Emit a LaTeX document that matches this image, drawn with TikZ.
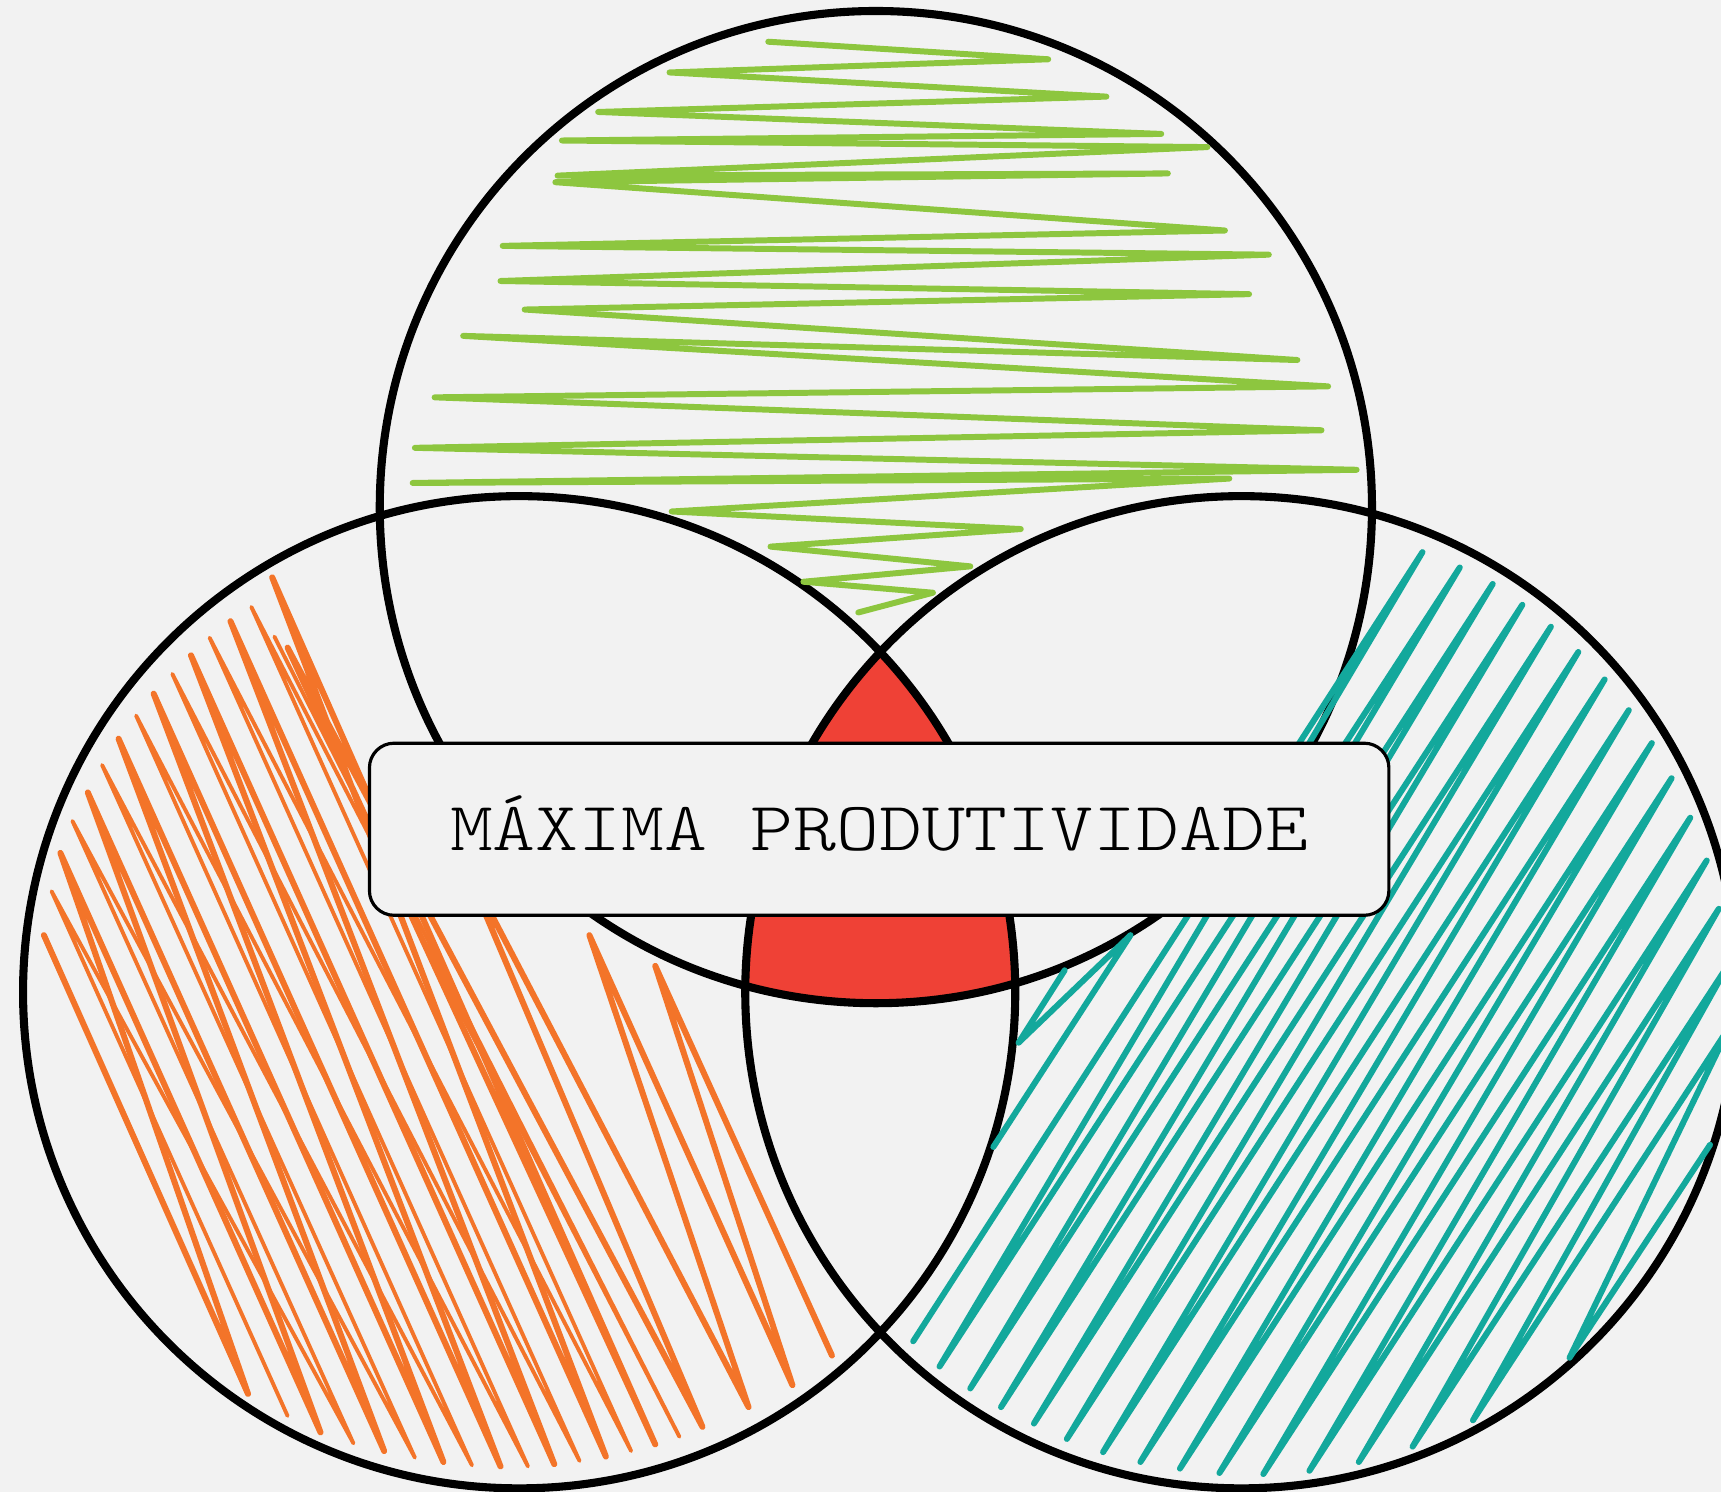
\documentclass[tikz,border=0pt]{standalone}
\usepackage{fontspec}
\usepackage{tikz}
\usetikzlibrary{positioning}
\newfontfamily\labelfont{lmmonolt10-regular.otf}[FakeStretch=1.18]

\definecolor{paper}{HTML}{F2F2F2}
\definecolor{leafgreen}{HTML}{8DC63F}
\definecolor{tangerine}{HTML}{F37429}
\definecolor{seateal}{HTML}{13A89C}
\definecolor{coral}{HTML}{EF4136}

\begin{document}
\begin{tikzpicture}[x=0.010976cm, y=-0.010976cm]
    \tikzstyle{ring} = [draw=black, line width=2.3pt]
    \tikzstyle{scribble} = [line width=1.7pt, line join=round, line cap=round]
    \tikzstyle{thinscribble} = [line width=1.1pt, line join=round, line cap=round]
    \tikzstyle{banner} = [rectangle, draw=black, line width=0.9pt, fill=paper, rounded corners=7pt, minimum width=10.19cm, minimum height=1.72cm, text height=12pt, text depth=0pt, font=\labelfont\fontsize{19.7}{24}\selectfont]

    \clip (0,0) rectangle (1568,1359);
    \fill[paper] (0,0) rectangle (1568,1359);

    \coordinate (ctop) at (798,462);
    \coordinate (cleft) at (473,904);
    \coordinate (cright) at (1131,904);

    % the part shared by all three
    \begin{scope}
        \clip (ctop) circle [radius=452];
        \clip (cleft) circle [radius=452];
        \fill[coral] (cright) circle [radius=452];
    \end{scope}

    \path[ring] (ctop) circle [radius=452];
    \path[ring] (cleft) circle [radius=452];
    \path[ring] (cright) circle [radius=452];

    % green scribble
    \draw[scribble, leafgreen] (700,38) -- (955,54) -- (610,66) -- (1008,88) -- (545,102) -- (1058,122) -- (512,128) -- (1100,134) -- (508,160) -- (1064,158) -- (506,166) -- (1116,210) -- (458,224) -- (1156,232) -- (456,256) -- (1138,268) -- (478,282) -- (1182,328) -- (422,306) -- (1210,352) -- (396,362) -- (1204,392) -- (378,408) -- (1236,428) -- (376,440) -- (1120,436) -- (612,466) -- (930,482) -- (702,498) -- (884,516) -- (732,530) -- (850,540) -- (782,558);

    % orange scribble
    \draw[scribble, tangerine] (40,852) -- (226,1270) -- (55,777) -- (292,1305) -- (80,722) -- (350,1322) -- (108,673) -- (404,1332) -- (140,632) -- (456,1336) -- (174,597) -- (505,1334) -- (210,566) -- (552,1327) -- (248,526) -- (597,1316) -- (262,590) -- (640,1300) -- (420,780) -- (682,1282) -- (537,852) -- (722,1262) -- (597,880) -- (758,1235);
    \draw[thinscribble, tangerine] (262,1290) -- (47,812) -- (322,1315) -- (66,748) -- (378,1328) -- (93,697) -- (430,1335) -- (124,652) -- (481,1336) -- (157,614) -- (528,1331) -- (191,581) -- (575,1322) -- (229,553) -- (619,1309) -- (250,580);

    % teal scribble
    \draw[scribble, seateal] (832,1222) -- (1296,503) -- (856,1245) -- (1330,517) -- (884,1265) -- (1360,532) -- (912,1282) -- (1387,551) -- (942,1297) -- (1413,571) -- (972,1311) -- (1438,594) -- (1005,1323) -- (1462,619) -- (1039,1332) -- (1484,647) -- (1075,1338) -- (1505,677) -- (1111,1342) -- (1523,709) -- (1151,1343) -- (1540,745) -- (1193,1340) -- (1555,784) -- (1238,1332) -- (1566,828) -- (1287,1318) -- (1574,880) -- (1342,1294) -- (1576,935) -- (1430,1237) -- (1558,1043);
    \draw[scribble, seateal] (905,1045) -- (1030,852) -- (928,950) -- (970,884);

    \node[banner] (label) at (801,755.5) {MÁXIMA PRODUTIVIDADE};
\end{tikzpicture}
\end{document}
